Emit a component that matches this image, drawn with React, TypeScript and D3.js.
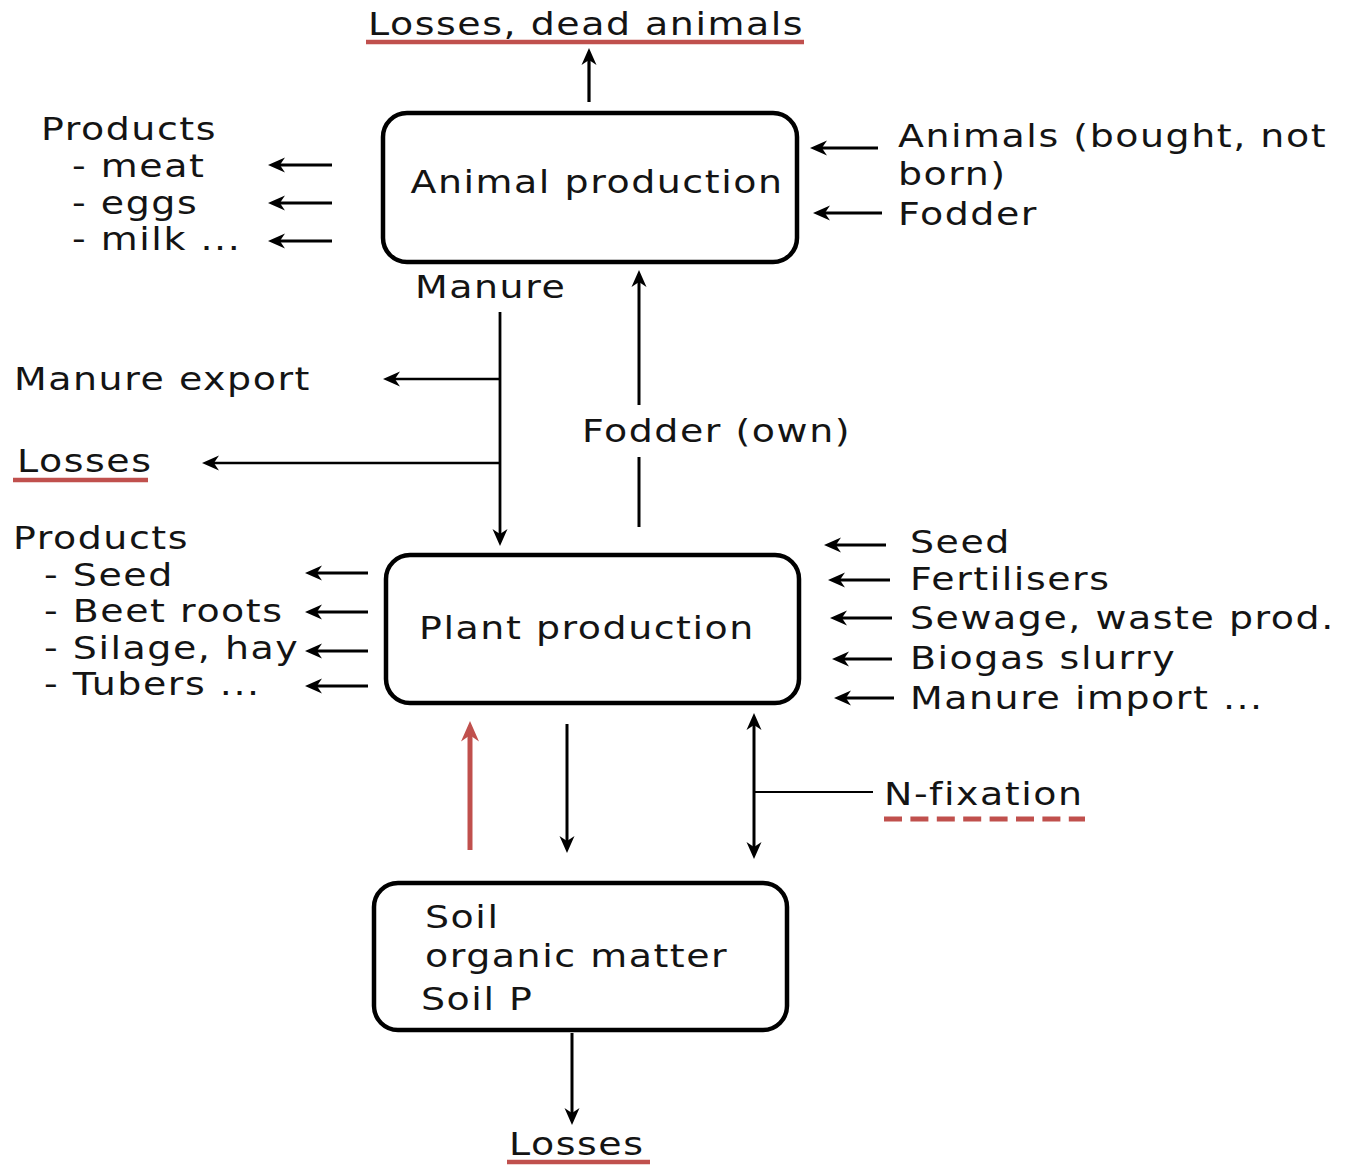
import React from "react";
import * as d3 from "d3";

const W = 1348;
const H = 1165;

const boxLabels = ["Animal production", "Plant production"];
const soilLines = ["Soil", "organic matter", "Soil P"];
const animalProducts = ["Products", "- meat", "- eggs", "- milk ..."];
const animalInputs = ["Animals (bought, not", "born)", "Fodder"];
const plantProducts = ["Products", "- Seed", "- Beet roots", "- Silage, hay", "- Tubers ..."];
const plantInputs = ["Seed", "Fertilisers", "Sewage, waste prod.", "Biogas slurry", "Manure import ..."];
const flowLabels = ["Manure", "Manure export", "Losses", "Fodder (own)", "N-fixation", "Losses, dead animals"];

const FONT = "'DejaVu Sans', Verdana, sans-serif";
const FS = 32;
const LS = 1.3;
const SX = 1.185;
const RED = "#c0504d";

function Arrow({ x1, y1, x2, y2, color = "#000", w = 3, head = 1, both = false }: any) {
  const ang = Math.atan2(y2 - y1, x2 - x1);
  const L = 17 * head, Wd = 7.5 * head;
  const headPath = (x: number, y: number, a: number) => {
    const p = d3.path();
    const bx = x - L * Math.cos(a), by = y - L * Math.sin(a);
    const nx = -Math.sin(a), ny = Math.cos(a);
    const mx = x - L * 0.7 * Math.cos(a), my = y - L * 0.7 * Math.sin(a);
    p.moveTo(x, y);
    p.lineTo(bx + nx * Wd, by + ny * Wd);
    p.lineTo(mx, my);
    p.lineTo(bx - nx * Wd, by - ny * Wd);
    p.closePath();
    return p.toString();
  };
  const sx = both ? x1 + L * 0.6 * Math.cos(ang) : x1;
  const sy = both ? y1 + L * 0.6 * Math.sin(ang) : y1;
  const ex = x2 - L * 0.6 * Math.cos(ang), ey = y2 - L * 0.6 * Math.sin(ang);
  return (
    <g>
      <line x1={sx} y1={sy} x2={ex} y2={ey} stroke={color} strokeWidth={w} />
      <path d={headPath(x2, y2, ang)} fill={color} />
      {both && <path d={headPath(x1, y1, ang + Math.PI)} fill={color} />}
    </g>
  );
}

function T({ x, y, children, anchor = "start" }: any) {
  return (
    <text
      transform={`translate(${x},${y}) scale(${SX},1)`}
      fontFamily={FONT}
      fontSize={FS}
      letterSpacing={LS}
      fill="#141414"
      textAnchor={anchor}
    >
      {children}
    </text>
  );
}

function Box({ x, y, w, h }: any) {
  return <rect x={x} y={y} width={w} height={h} rx={24} ry={24} fill="none" stroke="#000" strokeWidth={4.5} />;
}

export default function App() {
  const aProdY = [140, 177, 214, 250];
  const aProdArrowY = [165, 203, 241];
  const pProdY = [549, 586, 622, 659, 695];
  const pProdArrowY = [573, 612, 651, 686];
  const pInY = [553, 590, 629, 669, 709];
  const pInArrowY = [545, 580, 618, 659, 698];
  const pInArrowX1 = [886, 890, 892, 892, 894];
  const pInArrowX2 = [824, 828, 830, 832, 834];
  return (
    <svg width={W} height={H} style={{ position: "absolute", left: 0, top: 0, background: "#fff" }}>
      <rect width={W} height={H} fill="#fff" />
      {/* Top losses */}
      <T x={368} y={35}>{flowLabels[5]}</T>
      <line x1={366} x2={804} y1={42} y2={42} stroke={RED} strokeWidth={4.5} />
      <Arrow x1={589} y1={102} x2={589} y2={48} w={3.2} />

      {/* Animal production box */}
      <Box x={383} y={113} w={414} h={149} />
      <T x={597} y={193} anchor="middle">{boxLabels[0]}</T>

      {/* Animal products */}
      {animalProducts.map((s, i) => (
        <T key={s} x={i === 0 ? 41 : 72} y={aProdY[i]}>{s}</T>
      ))}
      {aProdArrowY.map((y) => (
        <Arrow key={y} x1={332} y1={y} x2={268} y2={y} w={2.8} />
      ))}

      {/* Animal inputs */}
      <T x={898} y={147}>{animalInputs[0]}</T>
      <T x={898} y={185}>{animalInputs[1]}</T>
      <T x={898} y={225}>{animalInputs[2]}</T>
      <Arrow x1={878} y1={148} x2={810} y2={148} w={2.8} />
      <Arrow x1={882} y1={213} x2={813} y2={213} w={2.8} />

      {/* Manure */}
      <T x={415} y={298}>{flowLabels[0]}</T>
      <Arrow x1={500} y1={312} x2={500} y2={546} w={2.8} />
      <T x={14} y={390}>{flowLabels[1]}</T>
      <Arrow x1={500} y1={379} x2={383} y2={379} w={2.5} />
      <T x={17} y={472}>{flowLabels[2]}</T>
      <line x1={13} x2={148} y1={480} y2={480} stroke={RED} strokeWidth={4.5} />
      <Arrow x1={500} y1={463} x2={202} y2={463} w={2.5} />

      {/* Fodder own */}
      <line x1={639} x2={639} y1={527} y2={457} stroke="#000" strokeWidth={3} />
      <Arrow x1={639} y1={405} x2={639} y2={270} w={3} />
      <T x={582} y={442}>{flowLabels[3]}</T>

      {/* Plant production box */}
      <Box x={386} y={555} w={413} h={148} />
      <T x={587} y={639} anchor="middle">{boxLabels[1]}</T>

      {plantProducts.map((s, i) => (
        <T key={s} x={i === 0 ? 13 : 44} y={pProdY[i]}>{s}</T>
      ))}
      {pProdArrowY.map((y) => (
        <Arrow key={y} x1={368} y1={y} x2={305} y2={y} w={2.8} />
      ))}

      {plantInputs.map((s, i) => (
        <T key={s} x={910} y={pInY[i]}>{s}</T>
      ))}
      {pInArrowY.map((y, i) => (
        <Arrow key={y} x1={pInArrowX1[i]} y1={y} x2={pInArrowX2[i]} y2={y} w={2.8} />
      ))}

      {/* Between plant and soil */}
      <Arrow x1={470} y1={850} x2={470} y2={721} color={RED} w={5} head={1.2} />
      <Arrow x1={567} y1={724} x2={567} y2={853} w={3} />
      <Arrow x1={754} y1={713} x2={754} y2={859} w={3} both />
      <line x1={754} x2={873} y1={792} y2={792} stroke="#000" strokeWidth={2} />
      <T x={884} y={805}>{flowLabels[4]}</T>
      <line x1={884} x2={1085} y1={819} y2={819} stroke={RED} strokeWidth={5} strokeDasharray="18 8.4" />

      {/* Soil box */}
      <Box x={374} y={883} w={413} h={147} />
      <T x={425} y={928}>{soilLines[0]}</T>
      <T x={425} y={967}>{soilLines[1]}</T>
      <T x={421} y={1010}>{soilLines[2]}</T>

      <Arrow x1={572} y1={1033} x2={572} y2={1125} w={3} />
      <T x={509} y={1155}>{flowLabels[2]}</T>
      <line x1={507} x2={650} y1={1162} y2={1162} stroke={RED} strokeWidth={4.5} />
    </svg>
  );
}
